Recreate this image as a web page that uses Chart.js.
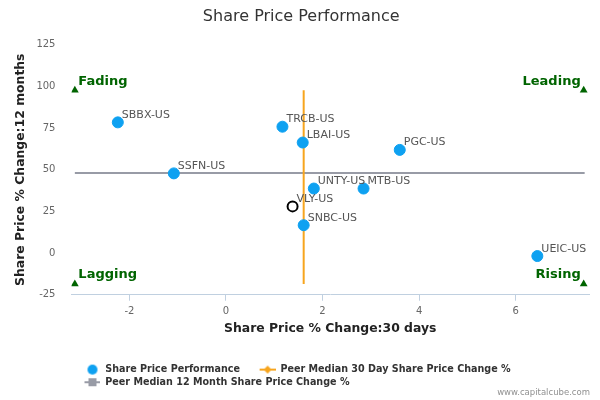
<!DOCTYPE html>
<html>
<head>
<meta charset="utf-8">
<script src="https://cdn.jsdelivr.net/npm/chart.js@4.4.1/dist/chart.umd.min.js"></script>
<style>
  html, body { margin: 0; padding: 0; background: #fff; }
  #wrap { width: 600px; height: 400px; }
</style>
</head>
<body>
<div id="wrap"><canvas id="perfChart"></canvas></div>
<script>
// peers: 30 day change (x) vs 12 month change (y)
const tickers = ["SBBX-US", "SSFN-US", "TRCB-US", "LBAI-US", "PGC-US", "UNTY-US", "MTB-US", "SNBC-US", "UEIC-US"];
const change30d = [-2.24, -1.08, 1.17, 1.59, 3.60, 1.82, 2.85, 1.61, 6.45];
const change12m = [78.4, 47.8, 75.8, 66.3, 61.9, 38.7, 38.7, 16.7, -1.8];

const subjectName = "VLY-US";
const subject30d = 1.38;
const subject12m = 28.0;

const median30d = 1.61;
const median12m = 48.0;
const median30dSpan = [-18.5, 97.6];
const median12mSpan = [-3.13, 7.43];

const quadrantNames = ["Fading", "Leading", "Lagging", "Rising"];
const quadrantX = [-3.13, 7.41, -3.13, 7.41];
const quadrantY = [97.6, 97.6, -18.5, -18.5];

const xTicks = [-2, 0, 2, 4, 6];
const yTicks = [-25, 0, 25, 50, 75, 100, 125];

const FONT = "'DejaVu Sans', Verdana, sans-serif";
const BLUE = "#0ea1f1";
const ORANGE = "#f7a51e";
const GREY = "#989ba6";
const GREEN = "#006400";

// little legend icons: symbol sits at the right end of the canvas
function legendIcon(kind, color, w) {
    const c = document.createElement("canvas");
    c.width = w;
    c.height = 12;
    const g = c.getContext("2d");
    const cx = w - 8;
    g.fillStyle = color;
    g.strokeStyle = color;
    if (kind === "circle") {
        g.beginPath();
        g.arc(cx, 6, 5, 0, Math.PI * 2);
        g.fill();
    } else {
        g.lineWidth = 2;
        g.beginPath();
        g.moveTo(cx - 8, 6);
        g.lineTo(cx + 8, 6);
        g.stroke();
        g.beginPath();
        if (kind === "diamond") {
            g.moveTo(cx, 2); g.lineTo(cx + 4, 6); g.lineTo(cx, 10); g.lineTo(cx - 4, 6);
        } else {
            g.rect(cx - 4, 2, 8, 8);
        }
        g.fill();
    }
    return c;
}

const ICON_W = 26;
const legendIcons = [
    legendIcon("circle", BLUE, ICON_W),
    legendIcon("diamond", ORANGE, ICON_W),
    legendIcon("square", GREY, ICON_W)
];

const labelPlugin = {
    id: "pointLabels",
    afterDatasetsDraw(chart) {
        const ctx = chart.ctx;
        ctx.save();
        ctx.font = "11px " + FONT;
        ctx.fillStyle = "#555";
        ctx.textAlign = "left";
        ctx.textBaseline = "alphabetic";
        chart.getDatasetMeta(0).data.forEach((pt, i) => {
            ctx.fillText(tickers[i], pt.x + 4, pt.y - 4.5);
        });
        const s = chart.getDatasetMeta(1).data[0];
        ctx.fillText(subjectName, s.x + 4, s.y - 4.5);

        ctx.font = "bold 13px " + FONT;
        ctx.fillStyle = GREEN;
        chart.getDatasetMeta(4).data.forEach((pt, i) => {
            if (i % 2 === 0) {
                ctx.textAlign = "left";
                ctx.fillText(quadrantNames[i], pt.x + 3.5, pt.y - 5.5);
            } else {
                ctx.textAlign = "right";
                ctx.fillText(quadrantNames[i], pt.x - 3, pt.y - 5.5);
            }
        });

        ctx.font = "8.5px " + FONT;
        ctx.fillStyle = "#909090";
        ctx.textAlign = "right";
        ctx.fillText("www.capitalcube.com", 590, 395);
        ctx.restore();
    }
};

const ctx = document.getElementById("perfChart").getContext("2d");
new Chart(ctx, {
    type: "scatter",
    data: {
        datasets: [
            {
                label: "Share Price Performance",
                data: change30d.map((x, i) => ({ x: x, y: change12m[i] })),
                backgroundColor: BLUE,
                borderColor: BLUE,
                pointRadius: 5.5,
                pointHoverRadius: 5.5,
                order: 1
            },
            {
                label: subjectName,
                data: [{ x: subject30d, y: subject12m }],
                backgroundColor: "rgba(0,0,0,0)",
                borderColor: "#000",
                borderWidth: 2,
                pointRadius: 5,
                order: 1
            },
            {
                label: "Peer Median 30 Day Share Price Change %",
                data: median30dSpan.map(y => ({ x: median30d, y: y })),
                showLine: true,
                borderColor: ORANGE,
                backgroundColor: ORANGE,
                borderWidth: 2,
                pointRadius: 0,
                order: 3
            },
            {
                label: "Peer Median 12 Month Share Price Change %",
                data: median12mSpan.map(x => ({ x: x, y: median12m })),
                showLine: true,
                borderColor: GREY,
                backgroundColor: GREY,
                borderWidth: 2,
                pointRadius: 0,
                order: 3
            },
            {
                label: "quadrants",
                data: quadrantX.map((x, i) => ({ x: x, y: quadrantY[i] })),
                pointStyle: "triangle",
                backgroundColor: GREEN,
                borderColor: GREEN,
                borderWidth: 0,
                pointRadius: 4.5,
                order: 0
            }
        ]
    },
    options: {
        responsive: true,
        maintainAspectRatio: false,
        animation: false,
        layout: { padding: { left: 13.5, right: 11, top: 0, bottom: 3 } },
        scales: {
            x: {
                type: "linear",
                min: -3.2,
                max: 7.52,
                afterBuildTicks: scale => { scale.ticks = xTicks.map(v => ({ value: v })); },
                grid: {
                    drawOnChartArea: false,
                    drawTicks: true,
                    tickLength: 6,
                    color: "#c0d0e0"
                },
                border: { display: true, color: "#c0d0e0", width: 1 },
                ticks: { color: "#666", font: { family: FONT, size: 10 }, padding: 4.5 },
                title: {
                    display: true,
                    text: "Share Price % Change:30 days",
                    color: "#222",
                    font: { family: FONT, size: 12.4, weight: "bold" },
                    padding: { top: 0, bottom: 25.2 }
                }
            },
            y: {
                type: "linear",
                min: -25,
                max: 125,
                afterBuildTicks: scale => { scale.ticks = yTicks.map(v => ({ value: v })); },
                grid: { display: false, drawTicks: false },
                border: { display: false },
                ticks: { color: "#666", font: { family: FONT, size: 10 }, padding: 16 },
                title: {
                    display: true,
                    text: "Share Price % Change:12 months",
                    color: "#222",
                    font: { family: FONT, size: 12.4, weight: "bold" },
                    padding: { top: 0, bottom: -8 }
                }
            }
        },
        plugins: {
            title: {
                display: true,
                text: "Share Price Performance",
                color: "#333",
                font: { family: FONT, size: 16, weight: "normal" },
                padding: { top: 7, bottom: 18.5 }
            },
            legend: {
                position: "bottom",
                align: "start",
                fullSize: false,
                labels: {
                    usePointStyle: true,
                    pointStyleWidth: ICON_W,
                    padding: 3,
                    color: "#333",
                    font: { family: FONT, size: 9.6, weight: "bold" },
                    filter: item => item.datasetIndex !== 1 && item.datasetIndex !== 4,
                    generateLabels: chart => chart.data.datasets.map((ds, i) => ({
                        text: i === 0 ? ds.label + "  " : ds.label,
                        datasetIndex: i,
                        pointStyle: i === 0 ? legendIcons[0] : (i === 2 ? legendIcons[1] : legendIcons[2]),
                        fillStyle: ds.backgroundColor,
                        strokeStyle: ds.borderColor,
                        lineWidth: 0,
                        hidden: false,
                        fontColor: "#333"
                    }))
                }
            },
            tooltip: { enabled: false }
        }
    },
    plugins: [labelPlugin]
});
</script>
</body>
</html>
